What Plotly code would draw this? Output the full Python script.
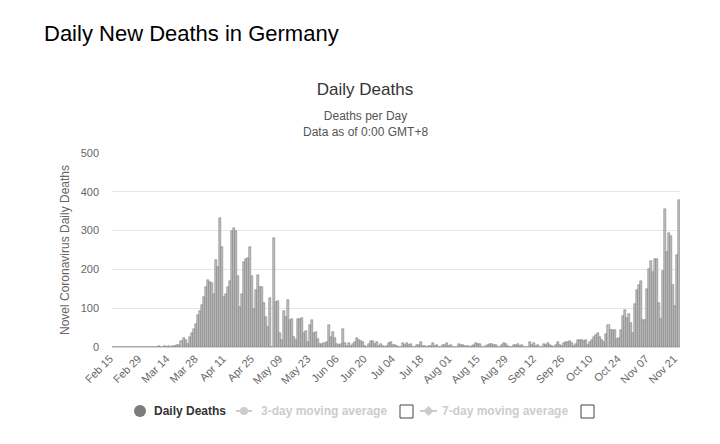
import pandas as pd
import plotly.graph_objects as go

# ---------------- data ----------------
start_date = "2020-02-15"
deaths = [
    # Feb 15 - Feb 29
    0, 0, 0, 0, 0, 0, 0, 0, 0, 0, 0, 0, 0, 0, 0,
    # Mar 1 - Mar 31
    0, 0, 0, 0, 0, 0, 0, 0, 2, 0, 1, 3, 0, 2, 1, 3, 2, 4, 6, 15,
    23, 17, 9, 27, 37, 47, 60, 82, 94, 107, 129,
    # Apr 1 - Apr 30
    155, 173, 167, 165, 137, 223, 206, 333, 258, 128,
    137, 154, 171, 300, 307, 298, 184, 103, 137, 219,
    228, 230, 259, 184, 99, 147, 186, 154, 154, 113,
    # May 1 - May 31
    77, 51, 127, 0, 280, 116, 118, 36, 17, 92,
    77, 122, 69, 73, 26, 19, 71, 73, 75, 36,
    41, 13, 56, 70, 36, 39, 21, 9, 9, 10,
    13,
    # Jun 1 - Jun 30
    56, 26, 39, 24, 7, 4, 7, 47, 10, 3,
    10, 2, 7, 13, 24, 17, 15, 13, 2, 0,
    7, 15, 15, 9, 13, 2, 8, 3, 1, 2,
    # Jul 1 - Jul 31
    11, 12, 6, 5, 3, 0, 1, 10, 6, 10,
    4, 7, 0, 1, 6, 4, 12, 2, 2, 0,
    3, 2, 10, 3, 4, 1, 0, 4, 6, 11,
    3,
    # Aug 1 - Aug 31
    5, 1, 0, 1, 7, 4, 6, 3, 2, 0,
    3, 5, 10, 9, 8, 1, 0, 2, 4, 8,
    8, 5, 6, 0, 1, 5, 10, 8, 3, 1,
    0,
    # Sep 1 - Sep 30
    4, 6, 9, 3, 5, 1, 0, 1, 12, 5,
    11, 3, 4, 0, 1, 8, 4, 10, 4, 3,
    0, 4, 13, 5, 3, 10, 12, 13, 15, 10,
    # Oct 1 - Oct 31
    3, 7, 17, 19, 17, 15, 19, 5, 13, 17,
    26, 32, 36, 26, 19, 13, 34, 56, 45, 45,
    45, 21, 24, 43, 79, 96, 75, 86, 62, 36,
    110,
    # Nov 1 - Nov 22
    148, 159, 170, 69, 69, 150, 201, 221, 193, 227,
    227, 113, 73, 195, 356, 244, 293, 287, 161, 105,
    238, 380,
]
dates = [d.strftime("%b %d") for d in pd.date_range(start_date, periods=len(deaths), freq="D")]
tick_labels = dates[::14]
y_ticks = [0, 100, 200, 300, 400, 500]

# ---------------- geometry helpers (page pixels -> paper) ----------------
W, H = 720, 444
ML, MR, MT, MB = 112, 40, 153, 97
PW, PH = W - ML - MR, H - MT - MB


def px(x):
    return (x - ML) / PW


def py(y):
    return (H - MB - y) / PH


FONT = "Liberation Sans, Arial, sans-serif"

fig = go.Figure()
fig.add_trace(go.Bar(
    x=dates, y=deaths, name="Daily Deaths",
    marker=dict(color="#c2c2c2", line=dict(color="#6e6e6e", width=0.5)),
    showlegend=False,
    hovertemplate="%{x}: %{y}<extra></extra>",
))

shapes = []
annotations = []

# main page heading
annotations.append(dict(text="Daily New Deaths in Germany", x=px(42), y=py(33), xref="paper", yref="paper",
                        xanchor="left", yanchor="middle", showarrow=False,
                        font=dict(family=FONT, size=22, color="#000000")))
# subtitle
annotations.append(dict(text="Deaths per Day<br>Data as of 0:00 GMT+8", x=px(365), y=py(123.5),
                        xref="paper", yref="paper", xanchor="center", yanchor="middle", showarrow=False,
                        font=dict(family=FONT, size=12, color="#555555")))

# ---- legend (drawn manually to mimic layout) ----
LY = 411
shapes.append(dict(type="circle", xref="paper", yref="paper", x0=px(134), x1=px(146), y0=py(LY + 6), y1=py(LY - 6),
                   fillcolor="#7c7c7c", line=dict(width=0)))
annotations.append(dict(text="<b>Daily Deaths</b>", x=px(152), y=py(LY), xref="paper", yref="paper",
                        xanchor="left", yanchor="middle", showarrow=False,
                        font=dict(family=FONT, size=12, color="#333333")))
# 3-day
shapes.append(dict(type="line", xref="paper", yref="paper", x0=px(236), x1=px(252), y0=py(LY), y1=py(LY),
                   line=dict(color="#cccccc", width=2)))
shapes.append(dict(type="circle", xref="paper", yref="paper", x0=px(240), x1=px(248), y0=py(LY + 4), y1=py(LY - 4),
                   fillcolor="#cccccc", line=dict(width=0)))
annotations.append(dict(text="<b>3-day moving average</b>", x=px(259), y=py(LY), xref="paper", yref="paper",
                        xanchor="left", yanchor="middle", showarrow=False,
                        font=dict(family=FONT, size=12, color="#cccccc")))
shapes.append(dict(type="rect", xref="paper", yref="paper", x0=px(400), x1=px(413), y0=py(418), y1=py(405),
                   fillcolor="#ffffff", line=dict(color="#444444", width=1)))
# 7-day
shapes.append(dict(type="line", xref="paper", yref="paper", x0=px(420), x1=px(437), y0=py(LY), y1=py(LY),
                   line=dict(color="#cccccc", width=2)))
cx = 428.5
shapes.append(dict(type="path", xref="paper", yref="paper",
                   path=f"M {px(cx)} {py(LY - 5)} L {px(cx + 5)} {py(LY)} L {px(cx)} {py(LY + 5)} L {px(cx - 5)} {py(LY)} Z",
                   fillcolor="#cccccc", line=dict(width=0)))
annotations.append(dict(text="<b>7-day moving average</b>", x=px(440), y=py(LY), xref="paper", yref="paper",
                        xanchor="left", yanchor="middle", showarrow=False,
                        font=dict(family=FONT, size=12, color="#cccccc")))
shapes.append(dict(type="rect", xref="paper", yref="paper", x0=px(581), x1=px(594), y0=py(418), y1=py(405),
                   fillcolor="#ffffff", line=dict(color="#444444", width=1)))

fig.update_layout(
    width=W, height=H,
    margin=dict(l=ML, r=MR, t=MT, b=MB, autoexpand=False),
    paper_bgcolor="#ffffff", plot_bgcolor="#ffffff",
    bargap=0.0,
    title=dict(text="Daily Deaths", x=365 / W, xref="container", xanchor="center",
               y=1 - 89 / H, yref="container", yanchor="middle",
               font=dict(family=FONT, size=17, color="#333333")),
    font=dict(family=FONT, color="#666666"),
    xaxis=dict(type="category", tickmode="array", tickvals=tick_labels, ticktext=tick_labels,
               tickangle=-45, tickfont=dict(size=11, color="#666666"), ticklabelshift=-3,
               showline=True, linecolor="#ccd6eb", linewidth=1, showgrid=False,
               ticks="", automargin=False),
    yaxis=dict(range=[0, 500], tickvals=y_ticks, showgrid=True, gridcolor="#e6e6e6", gridwidth=1,
               zeroline=False, tickfont=dict(size=11, color="#666666"), ticklabelstandoff=12,
               title=dict(text="Novel Coronavirus Daily Deaths", font=dict(size=12, color="#666666"), standoff=8),
               automargin=False),
    shapes=shapes,
    annotations=annotations,
    showlegend=False,
)

fig.write_html("out.html")
